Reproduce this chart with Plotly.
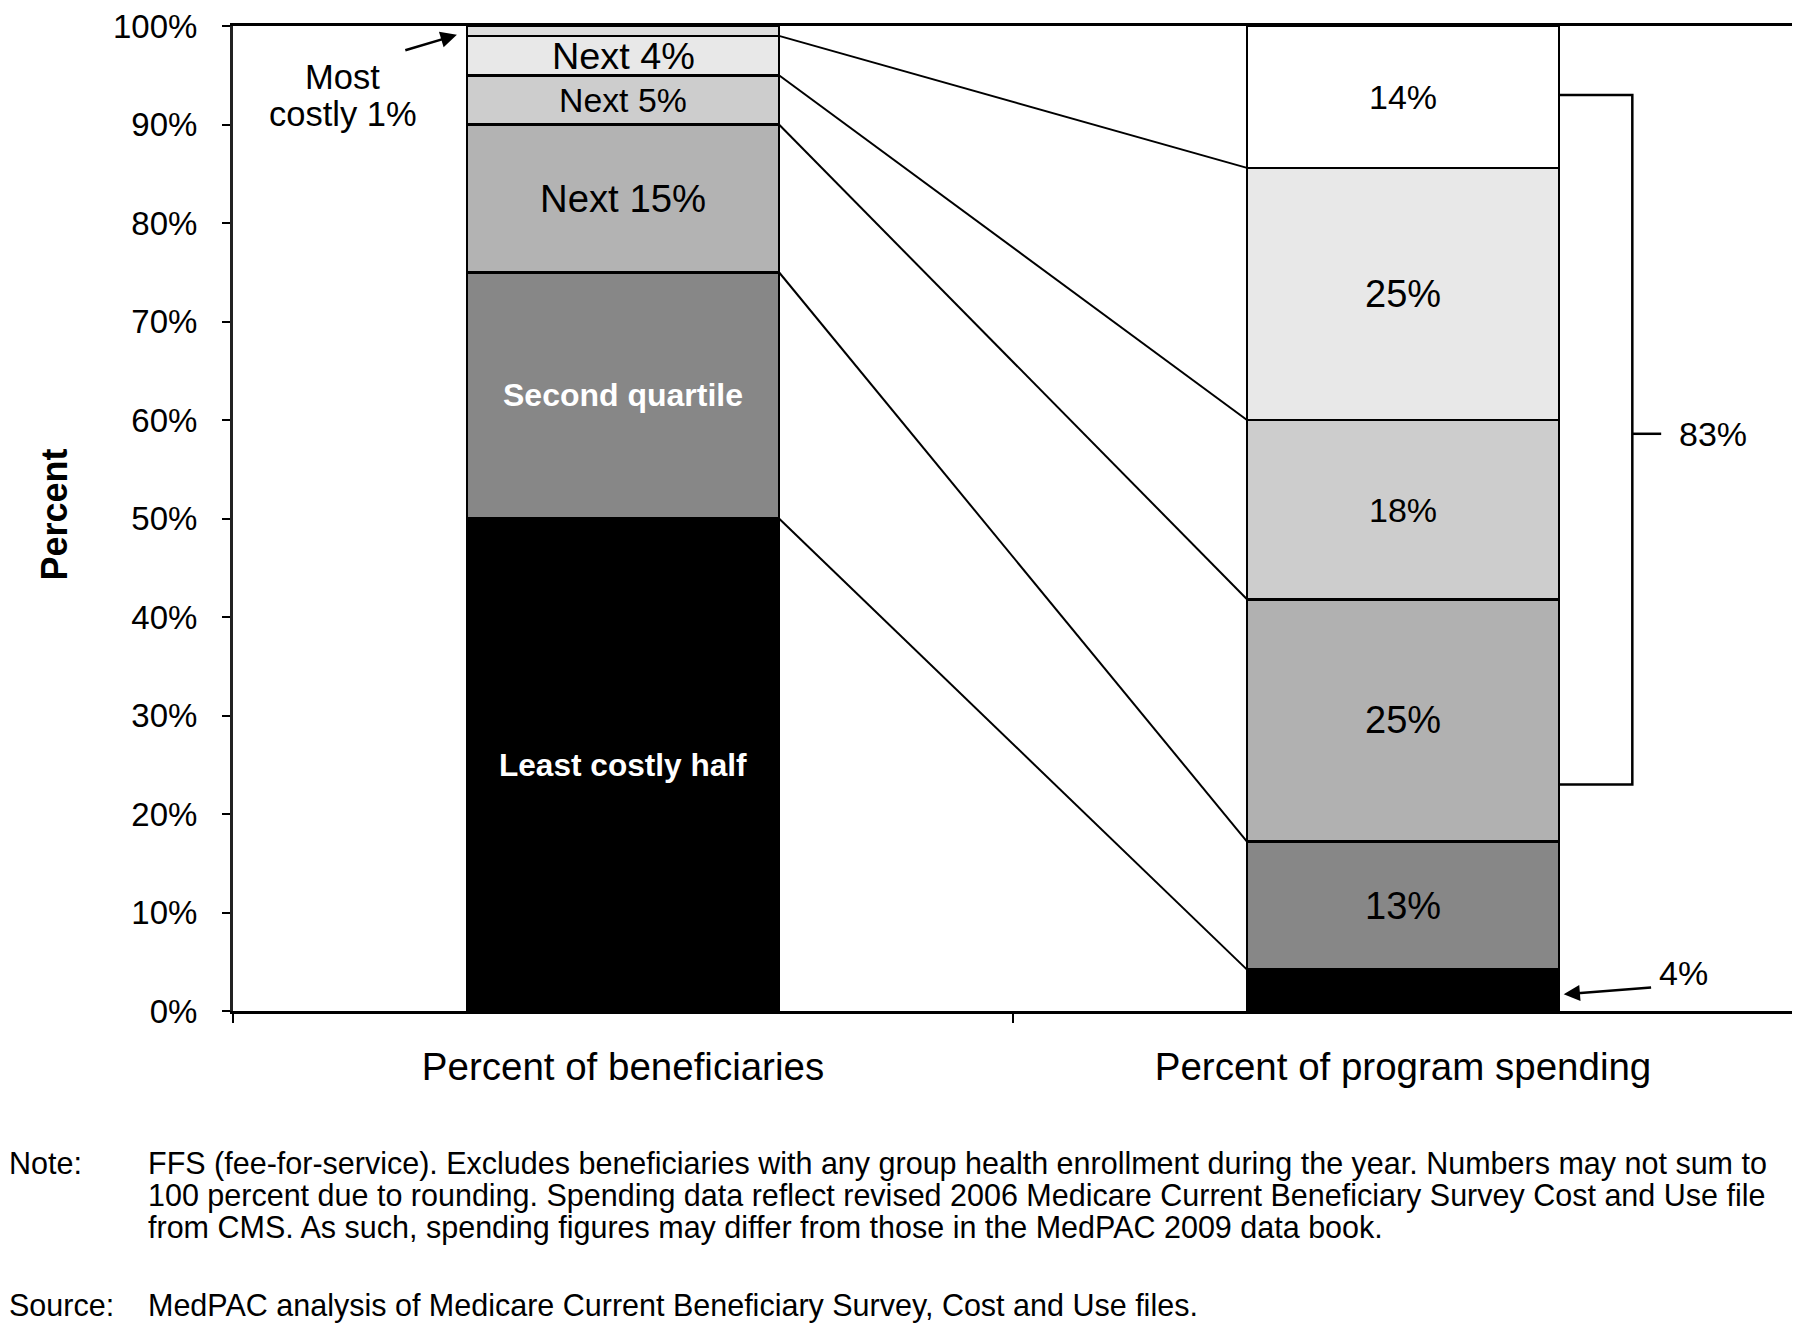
import plotly.graph_objects as go
import numpy as np

# ---------------- data ----------------
categories = ["Percent of beneficiaries", "Percent of program spending"]
bene_labels = ["Least costly half", "Second quartile", "Next 15%", "Next 5%", "Next 4%", "Most costly 1%"]
bene_values = [50, 25, 15, 5, 4, 1]
spend_labels = ["4%", "13%", "25%", "18%", "25%", "14%"]
spend_values = [4.2, 13.0, 24.6, 18.2, 25.6, 14.4]
bracket_label = "83%"
y_ticks = [0, 10, 20, 30, 40, 50, 60, 70, 80, 90, 100]
note_lines = [
    "FFS (fee-for-service). Excludes beneficiaries with any group health enrollment during the year. Numbers may not sum to",
    "100 percent due to rounding. Spending data reflect revised 2006 Medicare Current Beneficiary Survey Cost and Use file",
    "from CMS. As such, spending figures may differ from those in the MedPAC 2009 data book.",
]
source_line = "MedPAC analysis of Medicare Current Beneficiary Survey, Cost and Use files."

# ---------------- styles ----------------
FONT = "Liberation Sans, Arial, sans-serif"
bene_colors = ["#000000", "#878787", "#b3b3b3", "#cdcdcd", "#e8e8e8", "#dedede"]
spend_colors = ["#000000", "#878787", "#b1b1b1", "#cdcdcd", "#e8e8e8", "#ffffff"]
bene_text_sizes = [31.6, 32, 38.3, 33.8, 37.8, None]
bene_text_bold = [True, True, False, False, False, False]
bene_text_color = ["white", "white", "black", "black", "black", "black"]
spend_text_sizes = [None, 38, 38, 34, 38, 34]

OFF = 8  # default page body margin
W, H = 1800 - OFF, 1327 - OFF
# plot area in page pixels: left 233, right 1793, top 25, bottom 1011
P_L, P_R, P_T, P_B = 233, 1793, 26, 1011
ML, MT = P_L - OFF, P_T - OFF
MR = W - (P_R - OFF)
MB = H - (P_B - OFF)
PW, PH = P_R - P_L, P_B - P_T

def px_x(px):
    return (px - P_L) / PW

def px_y(py):
    return (P_B - py) / PH

BAR_W = 0.4
x_pos = [0, 1]

fig = go.Figure()

for v, c in zip(bene_values, bene_colors):
    fig.add_trace(go.Bar(x=[x_pos[0]], y=[v], width=BAR_W, marker=dict(color=c, line=dict(color="black", width=2.5)),
                         showlegend=False, hoverinfo="skip"))
for v, c in zip(spend_values, spend_colors):
    fig.add_trace(go.Bar(x=[x_pos[1]], y=[v], width=BAR_W, marker=dict(color=c, line=dict(color="black", width=2.5)),
                         showlegend=False, hoverinfo="skip"))

bene_cum = np.cumsum(bene_values)
spend_cum = np.cumsum(spend_values)
bene_mid = bene_cum - np.array(bene_values) / 2
spend_mid = spend_cum - np.array(spend_values) / 2

# connector lines
for b, s in zip(bene_cum[:5], spend_cum[:5]):
    fig.add_trace(go.Scatter(x=[x_pos[0] + BAR_W / 2, x_pos[1] - BAR_W / 2], y=[b, s], mode="lines",
                             line=dict(color="black", width=2), showlegend=False, hoverinfo="skip"))

# bracket
bx, btop, bbot, bmid = 1.294, 93.0, 23.0, 58.6
fig.add_trace(go.Scatter(x=[x_pos[1] + BAR_W / 2, bx, bx, x_pos[1] + BAR_W / 2], y=[btop, btop, bbot, bbot],
                         mode="lines", line=dict(color="black", width=2.5), showlegend=False, hoverinfo="skip"))
fig.add_trace(go.Scatter(x=[bx, 1.331], y=[bmid, bmid], mode="lines", line=dict(color="black", width=2.5),
                         showlegend=False, hoverinfo="skip"))

ann = []
for lab, ym, sz, bold, col in zip(bene_labels, bene_mid, bene_text_sizes, bene_text_bold, bene_text_color):
    if sz is None:
        continue
    ann.append(dict(x=x_pos[0], y=ym, xref="x", yref="y", text=f"<b>{lab}</b>" if bold else lab, showarrow=False,
                    font=dict(family=FONT, size=sz, color=col)))
for lab, ym, sz in zip(spend_labels, spend_mid, spend_text_sizes):
    if sz is None:
        continue
    ann.append(dict(x=x_pos[1], y=ym, xref="x", yref="y", text=lab, showarrow=False,
                    font=dict(family=FONT, size=sz, color="black")))

# 83% label
ann.append(dict(x=1.397, y=bmid, xref="x", yref="y", text=bracket_label, showarrow=False,
                font=dict(family=FONT, size=34, color="black")))
# 4% arrow + label
ann.append(dict(x=1.206, y=1.7, ax=1.32, ay=2.4, axref="x", ayref="y", xref="x", yref="y", text="",
                showarrow=True, arrowhead=2, arrowsize=1.3, arrowwidth=2.5, arrowcolor="black"))
ann.append(dict(x=1.359, y=3.85, xref="x", yref="y", text=spend_labels[0], showarrow=False,
                font=dict(family=FONT, size=34, color="black")))
# Most costly 1% arrow + label
ann.append(dict(x=-0.213, y=99.1, ax=-0.281, ay=97.5, axref="x", ayref="y", xref="x", yref="y", text="",
                showarrow=True, arrowhead=2, arrowsize=1.3, arrowwidth=2.5, arrowcolor="black"))
ann.append(dict(x=-0.359, y=94.8, xref="x", yref="y", text="Most", showarrow=False,
                font=dict(family=FONT, size=34.5, color="black")))
ann.append(dict(x=-0.359, y=91.1, xref="x", yref="y", text="costly 1%", showarrow=False,
                font=dict(family=FONT, size=34.5, color="black")))

# y title
ann.append(dict(x=px_x(55), y=50.4, xref="paper", yref="y", text="<b>Percent</b>", textangle=-90, showarrow=False,
                xanchor="center", yanchor="middle", font=dict(family=FONT, size=36, color="black")))

# notes
NOTE_SIZE = 30.5
note_y = [1163, 1195, 1227]
ann.append(dict(x=px_x(7), y=px_y(note_y[0]), xref="paper", yref="paper", text="Note:", showarrow=False,
                xanchor="left", yanchor="middle", font=dict(family=FONT, size=NOTE_SIZE, color="black")))
for line, yy in zip(note_lines, note_y):
    ann.append(dict(x=px_x(146), y=px_y(yy), xref="paper", yref="paper", text=line, showarrow=False,
                    xanchor="left", yanchor="middle", font=dict(family=FONT, size=NOTE_SIZE, color="black")))
ann.append(dict(x=px_x(7), y=px_y(1305), xref="paper", yref="paper", text="Source:", showarrow=False,
                xanchor="left", yanchor="middle", font=dict(family=FONT, size=NOTE_SIZE, color="black")))
ann.append(dict(x=px_x(146), y=px_y(1305), xref="paper", yref="paper", text=source_line, showarrow=False,
                xanchor="left", yanchor="middle", font=dict(family=FONT, size=NOTE_SIZE, color="black")))

fig.update_layout(
    width=W, height=H,
    margin=dict(l=ML, r=MR, t=MT, b=MB, autoexpand=False),
    barmode="stack",
    plot_bgcolor="white", paper_bgcolor="white",
    font=dict(family=FONT, color="black"),
    annotations=ann,
    xaxis=dict(range=[-0.5, 1.5], tickvals=x_pos, ticktext=categories, ticks="", showgrid=False, zeroline=False,
               showline=True, linecolor="black", linewidth=2.5, mirror=True,
               tickfont=dict(family=FONT, size=38.5, color="black"), ticklabelstandoff=20,
               ticklabeloverflow="allow",
               minor=dict(tick0=-0.5, dtick=1, ticks="outside", ticklen=9, tickwidth=2, tickcolor="black")),
    yaxis=dict(range=[0, 100], tickvals=y_ticks, ticktext=[f"{t}%" for t in y_ticks], ticks="outside", ticklen=8,
               tickwidth=2, tickcolor="black", showgrid=False, zeroline=False,
               showline=True, linecolor="#222222", linewidth=3, mirror=True,
               tickfont=dict(family=FONT, size=33, color="black"), ticklabelstandoff=18,
               ticklabeloverflow="allow"),
)

fig.write_html("out.html")
